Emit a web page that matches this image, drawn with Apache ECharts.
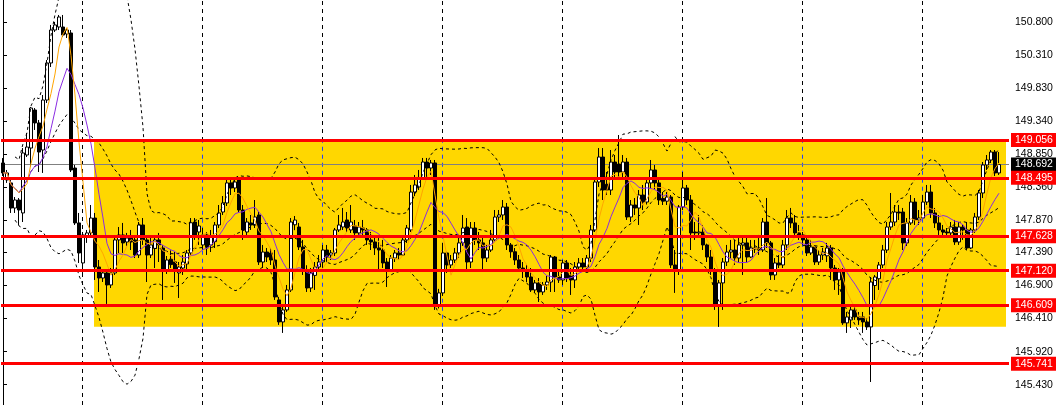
<!DOCTYPE html>
<html><head><meta charset="utf-8">
<script src="https://cdn.jsdelivr.net/npm/echarts@6/dist/echarts.min.js"></script>
<style>html,body{margin:0;padding:0;background:#fff}#c{width:1056px;height:405px}</style>
</head><body><div id="c"></div>
<script>
const opens=[148.716,148.464,148.420,148.048,148.167,147.975,148.834,148.937,149.501,149.309,
148.908,149.649,150.198,150.686,150.731,150.731,150.627,150.642,148.641,147.827,
147.234,147.619,147.679,147.900,147.174,147.011,147.086,146.908,147.086,147.575,
147.649,147.545,147.634,147.575,147.352,147.797,147.575,147.352,147.450,147.575,
147.456,147.130,147.290,147.250,147.086,147.159,147.220,147.382,147.841,147.693,
147.501,147.649,147.500,147.550,147.797,147.989,148.123,148.420,148.345,148.464,
148.019,147.693,147.827,147.797,147.945,147.248,147.396,147.382,147.278,146.686,
146.360,146.538,146.834,147.800,147.767,147.471,147.130,146.863,147.050,147.174,
147.248,147.426,147.352,147.382,147.723,147.767,147.871,147.723,147.782,147.679,
147.752,147.723,147.575,147.545,147.456,147.426,147.248,147.130,147.307,147.382,
147.352,147.575,147.723,148.285,148.360,148.493,148.730,148.641,148.716,146.612,
146.790,147.382,147.204,147.278,147.382,147.531,147.767,147.248,147.752,147.575,
147.531,147.307,147.426,147.575,147.915,147.945,148.063,147.501,147.400,147.278,
147.159,147.130,147.026,146.834,146.938,146.804,146.908,146.952,147.322,147.026,
146.982,147.234,147.050,146.982,147.174,147.234,147.174,147.307,147.723,148.434,
148.804,148.400,148.315,148.730,148.700,148.582,148.730,147.915,148.093,148.048,
148.241,148.137,148.420,148.612,148.420,148.190,148.150,148.211,147.204,147.130,
148.063,148.345,148.167,147.693,147.679,147.693,147.501,147.322,147.130,146.612,
146.938,147.248,147.396,147.426,147.307,147.501,147.531,147.322,147.441,147.456,
147.426,147.841,147.531,147.056,147.234,147.204,147.501,147.900,147.827,147.679,
147.649,147.575,147.382,147.471,147.248,147.352,147.340,147.456,147.159,146.982,
147.100,146.346,146.390,146.538,146.434,146.434,146.360,146.286,146.900,147.000,
147.204,147.426,147.767,147.841,147.989,147.989,147.531,147.827,148.137,147.871,
147.900,148.137,148.285,147.975,147.827,147.723,147.693,147.679,147.767,147.545,
147.767,147.723,147.456,147.723,147.915,148.271,148.686,148.760,148.878,148.568];
const closes=[148.568,148.568,148.048,148.167,148.019,148.864,148.952,149.530,149.309,148.878,
149.649,150.198,150.686,150.761,150.879,150.612,150.686,148.612,147.827,147.382,
147.649,147.679,147.900,147.174,147.011,147.086,146.908,147.086,147.575,147.649,
147.531,147.604,147.545,147.352,147.797,147.575,147.352,147.501,147.575,147.501,
147.130,147.278,147.210,147.130,147.174,147.248,147.382,147.830,147.649,147.782,
147.649,147.471,147.619,147.797,147.975,148.123,148.420,148.345,148.434,148.019,
147.723,147.841,147.797,147.915,147.248,147.396,147.322,147.278,146.730,146.360,
146.538,146.834,147.841,147.870,147.471,147.130,146.863,147.086,147.174,147.248,
147.426,147.322,147.382,147.723,147.797,147.841,147.752,147.841,147.679,147.767,
147.723,147.575,147.545,147.456,147.426,147.234,147.130,147.307,147.382,147.352,
147.575,147.752,148.285,148.390,148.493,148.730,148.641,148.716,146.612,146.790,
147.382,147.204,147.278,147.382,147.531,147.752,147.248,147.752,147.575,147.531,
147.307,147.426,147.575,147.915,147.945,148.063,147.501,147.400,147.278,147.159,
147.130,147.026,146.834,146.938,146.804,146.908,146.952,147.322,147.026,146.982,
147.234,147.011,146.982,147.174,147.234,147.174,147.307,147.723,148.434,148.804,
148.315,148.315,148.730,148.582,148.582,148.730,147.915,148.093,148.048,148.241,
148.137,148.420,148.612,148.420,148.167,148.150,148.211,147.204,147.130,148.063,
148.345,148.167,147.679,147.679,147.693,147.501,147.322,147.130,146.612,146.938,
147.248,147.396,147.426,147.307,147.501,147.531,147.322,147.456,147.456,147.426,
147.841,147.531,147.056,147.234,147.204,147.501,147.900,147.827,147.679,147.649,
147.575,147.382,147.471,147.248,147.352,147.396,147.456,147.159,146.982,147.100,
146.346,146.434,146.538,146.434,146.390,146.360,146.286,146.952,147.026,147.204,
147.426,147.767,147.841,147.989,147.975,147.531,147.827,148.137,147.871,147.900,
148.137,148.285,147.975,147.827,147.723,147.693,147.679,147.767,147.545,147.767,
147.723,147.456,147.723,147.915,148.271,148.686,148.760,148.878,148.568,148.692];
const highs=[148.789,148.612,148.464,148.211,148.196,148.937,149.161,149.545,149.530,149.353,
149.723,150.242,150.761,150.805,150.909,150.909,150.716,150.686,148.686,147.975,
147.693,147.723,148.093,147.975,147.278,147.130,147.130,147.159,147.619,147.767,
147.827,147.679,147.723,147.634,147.841,147.900,147.604,147.604,147.604,147.679,
147.500,147.337,147.420,147.396,147.248,147.352,147.426,147.900,147.900,147.871,
147.752,147.693,147.723,147.841,148.093,148.226,148.464,148.464,148.493,148.493,
148.093,147.900,147.945,148.167,147.989,147.501,147.456,147.456,147.426,146.730,
146.612,146.908,147.900,147.930,147.827,147.575,147.200,147.159,147.248,147.352,
147.501,147.501,147.426,147.752,147.945,148.049,147.989,148.093,147.871,147.841,
147.871,147.752,147.693,147.634,147.604,147.575,147.307,147.352,147.426,147.456,
147.634,147.797,148.390,148.538,148.612,148.790,148.790,148.760,148.760,146.850,
147.531,147.400,147.352,147.456,147.604,147.945,147.900,147.841,147.841,147.693,
147.604,147.501,147.723,148.019,148.019,148.167,148.123,147.530,147.456,147.352,
147.248,147.219,147.159,146.982,147.011,146.952,147.041,147.352,147.337,147.130,
147.278,147.278,147.159,147.248,147.307,147.307,147.352,147.797,148.493,148.937,
148.937,148.582,148.908,148.834,149.130,148.834,148.790,148.167,148.196,148.315,
148.390,148.493,148.760,148.686,148.493,148.285,148.285,148.241,147.426,148.093,
148.582,148.390,148.241,147.841,147.945,147.797,147.520,147.426,147.159,146.982,
147.307,147.501,147.575,147.575,147.604,147.619,147.604,147.575,147.575,147.649,
147.900,148.196,147.560,147.307,147.352,147.575,148.019,148.049,147.945,147.797,
147.693,147.604,147.575,147.500,147.426,147.456,147.531,147.501,147.204,147.159,
147.159,146.508,146.612,146.580,146.508,146.508,146.419,147.026,147.056,147.248,
147.501,147.841,148.271,148.093,148.093,148.049,147.900,148.241,148.196,148.019,
148.241,148.390,148.390,148.049,147.945,147.797,147.752,147.841,147.871,147.841,
147.797,147.841,147.752,147.975,148.315,148.730,148.834,148.908,148.908,148.878];
const lows=[148.523,148.420,147.975,147.975,147.797,147.841,148.804,148.656,149.205,148.582,
148.568,149.605,150.138,150.657,150.686,150.583,150.568,148.582,147.797,147.234,
147.086,147.531,147.604,146.982,146.804,146.952,146.627,146.863,147.056,147.382,
147.382,147.486,147.426,147.307,147.307,147.501,146.952,147.307,147.159,147.248,
146.686,147.071,147.160,146.938,146.715,147.056,147.100,147.350,147.575,147.501,
147.426,147.352,147.396,147.456,147.752,147.945,148.078,148.241,148.285,147.989,
147.575,147.649,147.723,147.752,147.204,147.159,147.248,147.204,146.686,146.316,
146.197,146.508,146.804,147.720,147.426,147.056,146.804,146.804,146.834,147.130,
147.130,147.248,147.278,147.337,147.693,147.723,147.693,147.679,147.575,147.604,
147.649,147.501,147.426,147.352,147.130,147.159,146.878,147.100,147.248,147.278,
147.337,147.531,147.693,148.226,148.315,148.464,148.493,148.538,146.538,146.560,
146.745,147.086,147.159,147.234,147.307,147.486,147.100,147.159,147.501,147.426,
147.130,147.248,147.396,147.560,147.841,147.871,147.426,147.310,147.204,147.100,
147.011,146.952,146.804,146.790,146.656,146.760,146.834,146.804,146.804,146.938,
146.908,146.952,146.760,146.863,147.130,147.130,147.100,147.248,147.693,148.360,
148.167,148.241,148.241,148.493,148.464,148.493,147.871,147.841,147.945,147.797,
148.019,148.100,148.345,148.315,148.093,148.093,148.093,147.159,146.790,147.056,
148.019,148.093,147.426,147.575,147.604,147.426,147.248,147.056,146.538,146.286,
146.538,147.189,147.307,147.204,147.248,147.056,147.248,147.307,147.382,147.352,
147.396,147.456,146.982,146.982,147.159,147.159,147.426,147.752,147.604,147.575,
147.501,147.337,147.352,147.204,147.204,147.278,147.248,146.982,146.834,146.760,
146.316,146.197,146.271,146.390,146.316,146.197,146.241,145.470,146.686,146.834,
147.159,147.382,147.723,147.782,147.871,147.426,147.486,147.797,147.797,147.797,
147.900,148.093,147.900,147.752,147.649,147.649,147.634,147.604,147.501,147.501,
147.575,147.426,147.440,147.679,147.871,148.196,148.612,148.716,148.523,148.538];
const tickLabels=[150.800,150.310,149.830,149.340,148.850,148.360,147.870,147.390,146.900,146.410,145.920,145.430];
const levelLines=[149.056,148.495,147.628,147.120,146.609,145.741];
const currentPrice=148.692;
const zoneTop=149.031, zoneBottom=146.289, zoneStartBar=22.75, zoneEndBar=250.75;
const gridBars=[19.8,49.8,79.8,109.8,139.8,169.8,199.8,229.8];

const N=252;
const cats=Array.from({length:N},(_,i)=>String(i));
function sma(src,n){return src.map((_,i)=>{const s=Math.max(0,i-n+1);let t=0;for(let j=s;j<=i;j++)t+=src[j];return t/(i-s+1);});}
function bands(src,n,k){const up=[],md=[],lo=[];src.forEach((_,i)=>{if(i<3){up.push(null);md.push(null);lo.push(null);return;}
 const s=Math.max(0,i-n+1);const w=src.slice(s,i+1);const m=w.reduce((a,b)=>a+b,0)/w.length;
 const sd=Math.sqrt(w.reduce((a,b)=>a+(b-m)*(b-m),0)/w.length);up.push(m+k*sd);md.push(m);lo.push(m-k*sd);});return {up,md,lo};}
const ma5=sma(closes,5), ma10=sma(closes,10), bb=bands(closes,20,2);
const FONT="'Liberation Sans Narrow','Liberation Sans',sans-serif";
const fmt=p=>Number(p.data && p.data.yAxis!=null ? p.data.yAxis : p.value).toFixed(3);
const chart=echarts.init(document.getElementById('c'),null,{renderer:'canvas'});
chart.setOption({
 animation:false,
 grid:{left:1,right:47,top:0,bottom:0},
 xAxis:[{type:'category',data:cats,boundaryGap:true,show:false},
        {type:'value',min:-0.5,max:N-0.5,show:false}],
 yAxis:{type:'value',position:'right',min:145.129,max:151.131,splitLine:{show:false},
   axisLine:{show:true,lineStyle:{color:'#000',width:1}},
   axisTick:{show:true,length:4,lineStyle:{color:'#000'},customValues:tickLabels},
   axisLabel:{customValues:tickLabels,formatter:v=>v.toFixed(3),color:'#000',fontFamily:FONT,fontSize:10.5,margin:6}},
 series:[
  {type:'line',xAxisIndex:1,data:[],silent:true,clip:false,
   markLine:{silent:true,z:1,symbol:['none','none'],label:{show:false},lineStyle:{color:'#000',type:[4,4],width:1},
     data:gridBars.map(x=>({xAxis:x}))}},
  {type:'line',xAxisIndex:1,data:[],silent:true,clip:false,
   markArea:{silent:true,z:2,itemStyle:{color:'#FFD700'},
     data:[[{xAxis:zoneStartBar,yAxis:zoneTop},{xAxis:zoneEndBar,yAxis:zoneBottom}]]}},
  {type:'line',xAxisIndex:1,data:[],silent:true,clip:false,
   markLine:{silent:true,z:3,symbol:['none','none'],label:{show:false},lineStyle:{color:'#2040ff',type:[4,4],width:1},
     data:gridBars.filter(x=>x>zoneStartBar).map(x=>[{xAxis:x,yAxis:zoneBottom},{xAxis:x,yAxis:zoneTop}])}},
  {type:'line',xAxisIndex:1,data:[],silent:true,clip:false,
   markLine:{silent:true,z:4,precision:3,symbol:['none','none'],lineStyle:{color:'#808080',type:'solid',width:1},
     label:{show:true,position:'end',distance:2,formatter:fmt,color:'#fff',backgroundColor:'#000',padding:[2,4,1,4],fontFamily:FONT,fontSize:10.5},
     data:[{yAxis:currentPrice}]}},
  {type:'candlestick',data:opens.map((o,i)=>[o,closes[i],lows[i],highs[i]]),barWidth:3,z:5,silent:true,
   itemStyle:{color:'#ffffff',color0:'#000000',borderColor:'#000000',borderColor0:'#000000',borderWidth:1}},
  {type:'line',data:bb.up,symbol:'none',z:6,silent:true,lineStyle:{color:'#000',width:1,type:[3,3]}},
  {type:'line',data:bb.md,symbol:'none',z:6,silent:true,lineStyle:{color:'#000',width:1,type:[3,3]}},
  {type:'line',data:bb.lo,symbol:'none',z:6,silent:true,lineStyle:{color:'#000',width:1,type:[3,3]}},
  {type:'line',data:ma10,symbol:'none',z:6,silent:true,lineStyle:{color:'#8A2BE2',width:1}},
  {type:'line',data:ma5,symbol:'none',z:6,silent:true,lineStyle:{color:'#FFA500',width:1}},
  {type:'line',xAxisIndex:1,data:[],silent:true,clip:false,
   markLine:{silent:true,z:7,precision:3,symbol:['none','none'],lineStyle:{color:'#ff0000',type:'solid',width:3},
     label:{show:true,position:'end',distance:2,formatter:fmt,color:'#fff',backgroundColor:'#ff0000',padding:[2,4,1,4],fontFamily:FONT,fontSize:10.5},
     data:levelLines.map(v=>({yAxis:v}))}}
 ]
});
</script></body></html>
